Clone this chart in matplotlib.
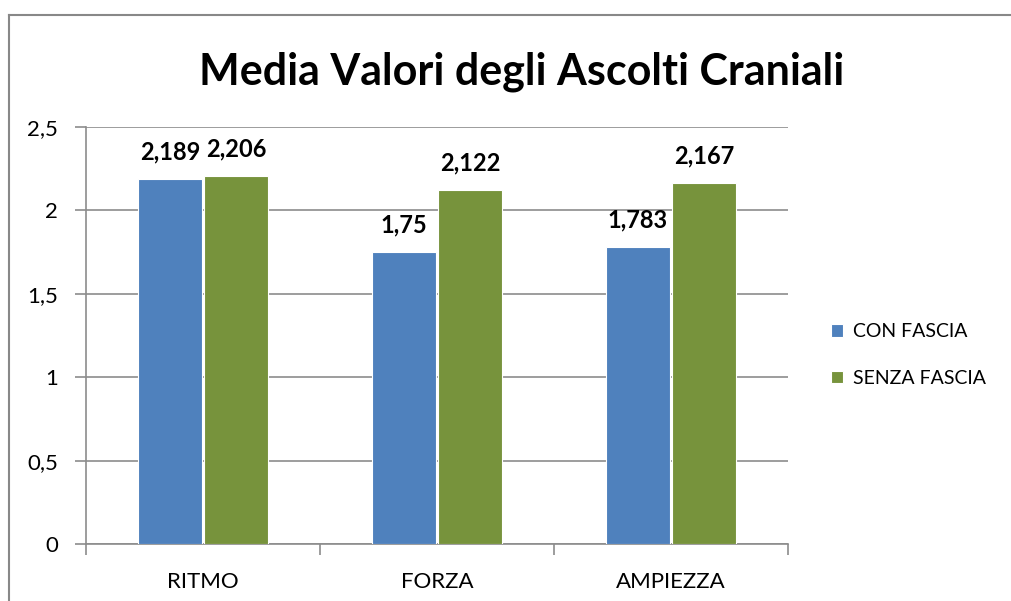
import matplotlib
matplotlib.use("Agg")
import matplotlib.pyplot as plt
import numpy as np
from matplotlib.lines import Line2D

categories = ["RITMO", "FORZA", "AMPIEZZA"]
con_fascia = [2.189, 1.75, 1.783]
senza_fascia = [2.206, 2.122, 2.167]
con_labels = ["2,189", "1,75", "1,783"]
senza_labels = ["2,206", "2,122", "2,167"]
series_names = ["CON FASCIA", "SENZA FASCIA"]
yticks = [0, 0.5, 1, 1.5, 2, 2.5]
ytick_labels = ["0", "0,5", "1", "1,5", "2", "2,5"]

FONT = "Lato"
BLUE = "#4F81BD"
GREEN = "#77933C"
GRID = "#8C8C8C"

fig = plt.figure(figsize=(10.12, 6.01), dpi=100)
ax = fig.add_axes([86/1012, 57/601, (788-86)/1012, (544-127)/601])

x = np.arange(len(categories))
w = 0.274
b1 = ax.bar(x - w/2 - 0.004, con_fascia, w, color=BLUE, edgecolor="white", linewidth=0.8, zorder=3, label=series_names[0])
b2 = ax.bar(x + w/2 + 0.004, senza_fascia, w, color=GREEN, edgecolor="white", linewidth=0.8, zorder=3, label=series_names[1])

for rects, labs in ((b1, con_labels), (b2, senza_labels)):
    for r, t in zip(rects, labs):
        ax.annotate(t, (r.get_x() + r.get_width()/2, r.get_height()), xytext=(0, 11),
                    textcoords="offset points", ha="center", va="bottom",
                    fontsize=17, fontweight="bold", family=FONT, color="black")

ax.set_xlim(-0.5, len(categories) - 0.5)
ax.set_ylim(0, 2.5)
ax.set_yticks(yticks)
ax.set_yticklabels(ytick_labels, family=FONT, fontsize=16)
ax.yaxis.grid(True, color=GRID, linewidth=1.2, zorder=0)
ax.set_axisbelow(True)

ax.set_xticks(x)
ax.set_xticklabels(categories, family=FONT, fontsize=16)
ax.tick_params(axis="x", length=0, pad=20)
ax.set_xticks(np.arange(len(categories) + 1) - 0.5, minor=True)
ax.tick_params(axis="x", which="minor", length=8, color=GRID, width=1.2)
ax.tick_params(axis="y", length=8, color=GRID, width=1.2, pad=12)

for s in ("top", "right"):
    ax.spines[s].set_visible(False)
for s in ("left", "bottom"):
    ax.spines[s].set_color(GRID)
    ax.spines[s].set_linewidth(1.2)

fig.text(522/1012, 1 - 72/601, "Media Valori degli Ascolti Craniali", ha="center", va="center",
         fontsize=31, fontweight="bold", family=FONT)

leg = fig.legend(handles=[b1, b2], labels=series_names, loc="center left",
                 bbox_to_anchor=(814/1012, 1 - 355/601), frameon=False,
                 prop={"family": FONT, "size": 14}, handlelength=0.6, handleheight=0.6,
                 handletextpad=0.5, labelspacing=1.5)

# chart frame (left and top edges visible)
fig.add_artist(Line2D([9/1012, 9/1012], [0, 1 - 15/601], transform=fig.transFigure, color="#888888", linewidth=1.5))
fig.add_artist(Line2D([9/1012, 1], [1 - 15/601, 1 - 15/601], transform=fig.transFigure, color="#888888", linewidth=1.5))

fig.savefig("out.png", dpi=100)
